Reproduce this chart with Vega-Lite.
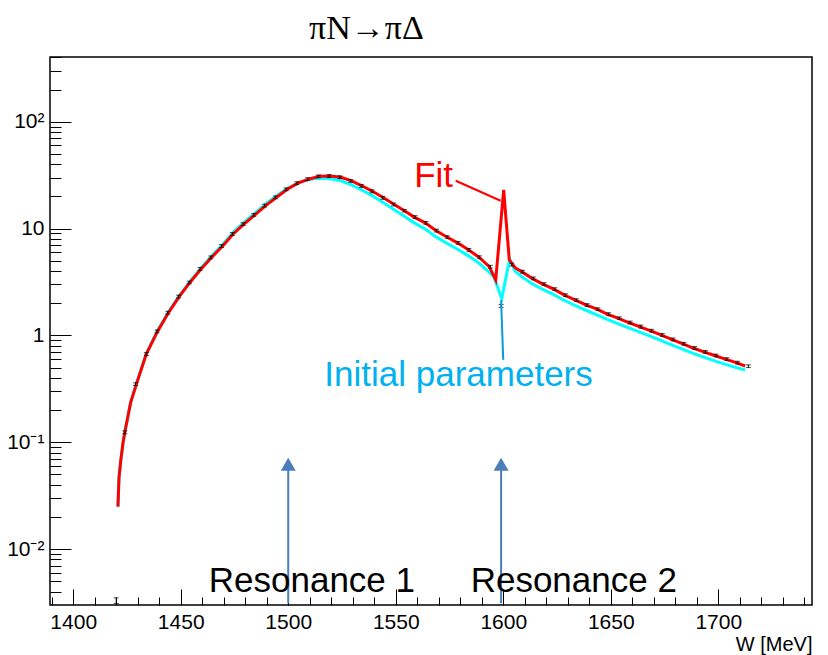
{
  "$schema": "https://vega.github.io/schema/vega-lite/v6.json",
  "autosize": "none",
  "width": 762,
  "height": 548,
  "padding": {"left": 50, "top": 57, "right": 16, "bottom": 50},
  "background": "white",
  "title": {"text": "πN→πΔ", "font": "Liberation Serif", "fontSize": 34, "fontWeight": "normal", "color": "black", "anchor": "start", "frame": "group", "dx": 259, "dy": 35, "baseline": "alphabetic", "offset": 19},
  "datasets": {
    "fit": [
      {"W": 1420.8, "v": 0.025}, {"W": 1421.3, "v": 0.047}, {"W": 1422.1, "v": 0.067}, {"W": 1423.2, "v": 0.10},
      {"W": 1424, "v": 0.124}, {"W": 1426.7, "v": 0.235}, {"W": 1429.4, "v": 0.35}, {"W": 1434, "v": 0.67}, {"W": 1439.2, "v": 1.09},
      {"W": 1444.3, "v": 1.63}, {"W": 1449.3, "v": 2.31}, {"W": 1454.3, "v": 3.13}, {"W": 1459.5, "v": 4.19},
      {"W": 1464.4, "v": 5.38}, {"W": 1469.5, "v": 6.86}, {"W": 1474.4, "v": 8.89}, {"W": 1479.4, "v": 11.0},
      {"W": 1484.5, "v": 13.4}, {"W": 1489.5, "v": 16.4}, {"W": 1494.6, "v": 19.6}, {"W": 1499.6, "v": 23.3},
      {"W": 1504.5, "v": 26.6}, {"W": 1509.5, "v": 29.0}, {"W": 1514.5, "v": 30.8}, {"W": 1519.5, "v": 31.0},
      {"W": 1524.5, "v": 30.2}, {"W": 1529.5, "v": 27.9}, {"W": 1534.5, "v": 25.0}, {"W": 1539.2, "v": 22.3},
      {"W": 1544.3, "v": 19.4}, {"W": 1549.3, "v": 16.8}, {"W": 1554, "v": 14.7}, {"W": 1558.6, "v": 12.8},
      {"W": 1563.7, "v": 11.3}, {"W": 1568.6, "v": 9.57}, {"W": 1574, "v": 8.3}, {"W": 1578.7, "v": 7.35},
      {"W": 1583.8, "v": 6.32}, {"W": 1588.7, "v": 5.39}, {"W": 1593.5, "v": 4.4}, {"W": 1596.5, "v": 3.3},
      {"W": 1600.2, "v": 23}, {"W": 1602.8, "v": 5.1}, {"W": 1605.5, "v": 4.3}, {"W": 1608.5, "v": 3.95},
      {"W": 1613.4, "v": 3.42}, {"W": 1618.4, "v": 3.02}, {"W": 1623.5, "v": 2.71}, {"W": 1628.5, "v": 2.38},
      {"W": 1633.6, "v": 2.14}, {"W": 1638.7, "v": 1.92}, {"W": 1643.6, "v": 1.76}, {"W": 1648.3, "v": 1.58},
      {"W": 1653.3, "v": 1.45}, {"W": 1658.3, "v": 1.32}, {"W": 1663.3, "v": 1.21}, {"W": 1668.3, "v": 1.107},
      {"W": 1673.3, "v": 1.01}, {"W": 1678.3, "v": 0.918}, {"W": 1683.3, "v": 0.836}, {"W": 1688.3, "v": 0.762},
      {"W": 1693.3, "v": 0.70}, {"W": 1698.3, "v": 0.649}, {"W": 1703.3, "v": 0.60}, {"W": 1708.3, "v": 0.556},
      {"W": 1712.5, "v": 0.517}
    ],
    "init": [
      {"W": 1420.8, "v": 0.025}, {"W": 1421.3, "v": 0.047}, {"W": 1422.1, "v": 0.068}, {"W": 1423.2, "v": 0.10},
      {"W": 1424, "v": 0.125}, {"W": 1426.7, "v": 0.238}, {"W": 1429.4, "v": 0.355}, {"W": 1434, "v": 0.68}, {"W": 1439.2, "v": 1.11},
      {"W": 1444.3, "v": 1.66}, {"W": 1449.3, "v": 2.36}, {"W": 1454.3, "v": 3.2}, {"W": 1459.5, "v": 4.3},
      {"W": 1464.4, "v": 5.55}, {"W": 1469.5, "v": 7.1}, {"W": 1474.4, "v": 9.2}, {"W": 1479.4, "v": 11.4},
      {"W": 1484.5, "v": 13.9}, {"W": 1489.5, "v": 17.0}, {"W": 1494.6, "v": 20.3}, {"W": 1499.6, "v": 23.8},
      {"W": 1504.5, "v": 26.8}, {"W": 1509.5, "v": 28.8}, {"W": 1514.5, "v": 29.6}, {"W": 1519.5, "v": 29.2},
      {"W": 1524.5, "v": 28.0}, {"W": 1529.5, "v": 25.6}, {"W": 1534.5, "v": 22.8}, {"W": 1539.2, "v": 20.2},
      {"W": 1544.3, "v": 17.4}, {"W": 1549.3, "v": 15.0}, {"W": 1554, "v": 13.0}, {"W": 1558.6, "v": 11.3},
      {"W": 1563.7, "v": 9.9}, {"W": 1568.6, "v": 8.4}, {"W": 1574, "v": 7.25}, {"W": 1578.7, "v": 6.4},
      {"W": 1583.8, "v": 5.55}, {"W": 1588.7, "v": 4.75}, {"W": 1593.5, "v": 3.9}, {"W": 1595.7, "v": 3.5},
      {"W": 1599.3, "v": 2.22}, {"W": 1603, "v": 5.2}, {"W": 1605.5, "v": 4.0}, {"W": 1608.5, "v": 3.55},
      {"W": 1613.4, "v": 3.05}, {"W": 1618.4, "v": 2.69}, {"W": 1623.5, "v": 2.41}, {"W": 1628.5, "v": 2.12},
      {"W": 1633.6, "v": 1.9}, {"W": 1638.7, "v": 1.71}, {"W": 1643.6, "v": 1.56}, {"W": 1648.3, "v": 1.41},
      {"W": 1653.3, "v": 1.29}, {"W": 1658.3, "v": 1.175}, {"W": 1663.3, "v": 1.077}, {"W": 1668.3, "v": 0.985},
      {"W": 1673.3, "v": 0.9}, {"W": 1678.3, "v": 0.817}, {"W": 1688.3, "v": 0.678}, {"W": 1698.3, "v": 0.578},
      {"W": 1708.3, "v": 0.5}, {"W": 1712.5, "v": 0.475}
    ],
    "points": [
      {"W": 1420, "v": 0.0033, "lo": 0.0031, "hi": 0.0035},
      {"W": 1424, "v": 0.124, "lo": 0.120, "hi": 0.128},
      {"W": 1429, "v": 0.35, "lo": 0.34, "hi": 0.36},
      {"W": 1434, "v": 0.67, "lo": 0.65, "hi": 0.69},
      {"W": 1439, "v": 1.09, "lo": 1.057, "hi": 1.123},
      {"W": 1444, "v": 1.63, "lo": 1.58, "hi": 1.68},
      {"W": 1449, "v": 2.31, "lo": 2.24, "hi": 2.38},
      {"W": 1454, "v": 3.13, "lo": 3.04, "hi": 3.22},
      {"W": 1459, "v": 4.19, "lo": 4.06, "hi": 4.32},
      {"W": 1464, "v": 5.38, "lo": 5.22, "hi": 5.54},
      {"W": 1469, "v": 6.86, "lo": 6.65, "hi": 7.07},
      {"W": 1474, "v": 8.89, "lo": 8.62, "hi": 9.16},
      {"W": 1479, "v": 11.0, "lo": 10.67, "hi": 11.33},
      {"W": 1484, "v": 13.4, "lo": 13.0, "hi": 13.8},
      {"W": 1489, "v": 16.4, "lo": 15.9, "hi": 16.9},
      {"W": 1494, "v": 19.6, "lo": 19.0, "hi": 20.2},
      {"W": 1499, "v": 23.3, "lo": 22.6, "hi": 24.0},
      {"W": 1504, "v": 26.6, "lo": 25.8, "hi": 27.4},
      {"W": 1509, "v": 29.0, "lo": 28.1, "hi": 29.9},
      {"W": 1514, "v": 30.8, "lo": 29.9, "hi": 31.7},
      {"W": 1519, "v": 31.0, "lo": 30.1, "hi": 31.9},
      {"W": 1524, "v": 30.2, "lo": 29.3, "hi": 31.1},
      {"W": 1529, "v": 27.9, "lo": 27.1, "hi": 28.7},
      {"W": 1534, "v": 25.0, "lo": 24.3, "hi": 25.8},
      {"W": 1539, "v": 22.3, "lo": 21.6, "hi": 23.0},
      {"W": 1544, "v": 19.4, "lo": 18.8, "hi": 20.0},
      {"W": 1549, "v": 16.8, "lo": 16.3, "hi": 17.3},
      {"W": 1554, "v": 14.7, "lo": 14.3, "hi": 15.1},
      {"W": 1559, "v": 12.8, "lo": 12.4, "hi": 13.2},
      {"W": 1564, "v": 11.3, "lo": 10.96, "hi": 11.64},
      {"W": 1569, "v": 9.57, "lo": 9.28, "hi": 9.86},
      {"W": 1574, "v": 8.3, "lo": 8.05, "hi": 8.55},
      {"W": 1579, "v": 7.35, "lo": 7.13, "hi": 7.57},
      {"W": 1584, "v": 6.32, "lo": 6.13, "hi": 6.51},
      {"W": 1589, "v": 5.39, "lo": 5.23, "hi": 5.55},
      {"W": 1594, "v": 4.4, "lo": 4.27, "hi": 4.53},
      {"W": 1599, "v": 1.89, "lo": 1.83, "hi": 1.95},
      {"W": 1604, "v": 4.6, "lo": 4.46, "hi": 4.74},
      {"W": 1609, "v": 3.95, "lo": 3.83, "hi": 4.07},
      {"W": 1614, "v": 3.42, "lo": 3.32, "hi": 3.52},
      {"W": 1619, "v": 3.02, "lo": 2.93, "hi": 3.11},
      {"W": 1624, "v": 2.71, "lo": 2.63, "hi": 2.79},
      {"W": 1629, "v": 2.38, "lo": 2.31, "hi": 2.45},
      {"W": 1634, "v": 2.14, "lo": 2.08, "hi": 2.20},
      {"W": 1639, "v": 1.92, "lo": 1.86, "hi": 1.98},
      {"W": 1644, "v": 1.76, "lo": 1.71, "hi": 1.81},
      {"W": 1649, "v": 1.58, "lo": 1.53, "hi": 1.63},
      {"W": 1654, "v": 1.45, "lo": 1.41, "hi": 1.49},
      {"W": 1659, "v": 1.32, "lo": 1.28, "hi": 1.36},
      {"W": 1664, "v": 1.21, "lo": 1.17, "hi": 1.25},
      {"W": 1669, "v": 1.107, "lo": 1.074, "hi": 1.14},
      {"W": 1674, "v": 1.01, "lo": 0.98, "hi": 1.04},
      {"W": 1679, "v": 0.918, "lo": 0.89, "hi": 0.946},
      {"W": 1684, "v": 0.836, "lo": 0.811, "hi": 0.861},
      {"W": 1689, "v": 0.762, "lo": 0.739, "hi": 0.785},
      {"W": 1694, "v": 0.70, "lo": 0.679, "hi": 0.721},
      {"W": 1699, "v": 0.649, "lo": 0.63, "hi": 0.668},
      {"W": 1704, "v": 0.60, "lo": 0.582, "hi": 0.618},
      {"W": 1709, "v": 0.556, "lo": 0.539, "hi": 0.573},
      {"W": 1714, "v": 0.515, "lo": 0.50, "hi": 0.53}
    ]
  },
  "layer": [
    {
      "data": {"name": "init"},
      "mark": {"type": "line", "color": "#00FFFF", "strokeWidth": 3, "interpolate": "linear", "clip": true},
      "encoding": {
        "x": {"field": "W", "type": "quantitative", "scale": {"domain": [1389.2, 1743.6], "nice": false, "zero": false},
              "axis": {"orient": "bottom", "values": [1400, 1450, 1500, 1550, 1600, 1650, 1700], "labels": false, "ticks": true, "tickSize": -16, "domain": false, "title": null}},
        "y": {"field": "v", "type": "quantitative", "scale": {"type": "log", "domain": [0.003, 403], "nice": false},
              "axis": {"orient": "left", "values": [0.01, 0.1, 1, 10, 100], "labels": false, "ticks": true, "tickSize": -21, "domain": false, "title": null}}
      }
    },
    {
      "data": {"name": "fit"},
      "mark": {"type": "line", "color": "#FF0000", "strokeWidth": 3, "interpolate": "linear", "clip": true},
      "encoding": {
        "x": {"field": "W", "type": "quantitative", "scale": {"domain": [1389.2, 1743.6], "nice": false, "zero": false},
              "axis": {"orient": "bottom", "values": [1400, 1450, 1500, 1550, 1600, 1650, 1700], "format": "d", "ticks": false, "labelPadding": 6, "labelFlush": false, "domain": false,
                       "title": "W [MeV]", "titleAnchor": "end", "titleAlign": "right", "titlePadding": 2}},
        "y": {"field": "v", "type": "quantitative", "scale": {"type": "log", "domain": [0.003, 403], "nice": false},
              "axis": {"orient": "left", "values": [0.01, 0.1, 1, 10, 100], "ticks": false, "labelPadding": 6, "domain": false, "title": null, "labelFlush": false, "labelFontSize": 21,
                       "labelExpr": "datum.value >= 50 ? '10²' : datum.value >= 5 ? '10' : datum.value >= 0.5 ? '1' : datum.value >= 0.05 ? '10⁻¹' : '10⁻²'"}}
      }
    },
    {
      "data": {"name": "points"},
      "mark": {"type": "rule", "color": "black", "strokeWidth": 1},
      "encoding": {
        "x": {"field": "W", "type": "quantitative", "scale": {"domain": [1389.2, 1743.6], "nice": false, "zero": false},
              "axis": {"orient": "bottom", "values": [1390, 1410, 1420, 1430, 1440, 1460, 1470, 1480, 1490, 1510, 1520, 1530, 1540, 1560, 1570, 1580, 1590, 1610, 1620, 1630, 1640, 1660, 1670, 1680, 1690, 1710, 1720, 1730, 1740], "labels": false, "ticks": true, "tickSize": -8, "domain": false, "title": null}},
        "y": {"field": "lo", "type": "quantitative", "scale": {"type": "log", "domain": [0.003, 403], "nice": false},
              "axis": {"orient": "left", "values": [0.004, 0.005, 0.006, 0.007, 0.008, 0.009, 0.02, 0.03, 0.04, 0.05, 0.06, 0.07, 0.08, 0.09, 0.2, 0.3, 0.4, 0.5, 0.6, 0.7, 0.8, 0.9, 2, 3, 4, 5, 6, 7, 8, 9, 20, 30, 40, 50, 60, 70, 80, 90, 200, 300, 400], "labels": false, "ticks": true, "tickSize": -11, "domain": false, "title": null}},
        "y2": {"field": "hi"}
      }
    },
    {
      "data": {"name": "points"},
      "mark": {"type": "tick", "orient": "horizontal", "color": "black", "size": 5, "thickness": 1},
      "encoding": {
        "x": {"field": "W", "type": "quantitative", "scale": {"domain": [1389.2, 1743.6], "nice": false, "zero": false}, "axis": null},
        "y": {"field": "lo", "type": "quantitative", "scale": {"type": "log", "domain": [0.003, 403], "nice": false}, "axis": null}
      }
    },
    {
      "data": {"name": "points"},
      "mark": {"type": "tick", "orient": "horizontal", "color": "black", "size": 5, "thickness": 1},
      "encoding": {
        "x": {"field": "W", "type": "quantitative", "scale": {"domain": [1389.2, 1743.6], "nice": false, "zero": false}, "axis": null},
        "y": {"field": "hi", "type": "quantitative", "scale": {"type": "log", "domain": [0.003, 403], "nice": false}, "axis": null}
      }
    },
    {
      "data": {"values": [{"W": 1577.9, "v": 28.0, "W2": 1598.8, "v2": 18.2}]},
      "mark": {"type": "rule", "color": "#FF0000", "strokeWidth": 2},
      "encoding": {
        "x": {"field": "W", "type": "quantitative", "scale": {"domain": [1389.2, 1743.6], "nice": false, "zero": false}, "axis": null},
        "y": {"field": "v", "type": "quantitative", "scale": {"type": "log", "domain": [0.003, 403], "nice": false}, "axis": null},
        "x2": {"field": "W2"},
        "y2": {"field": "v2"}
      }
    },
    {
      "data": {"values": [{"W": 1599.0, "v": 2.14, "W2": 1600.0, "v2": 0.59}]},
      "mark": {"type": "rule", "color": "#0A9AD8", "strokeWidth": 2},
      "encoding": {
        "x": {"field": "W", "type": "quantitative", "scale": {"domain": [1389.2, 1743.6], "nice": false, "zero": false}, "axis": null},
        "y": {"field": "v", "type": "quantitative", "scale": {"type": "log", "domain": [0.003, 403], "nice": false}, "axis": null},
        "x2": {"field": "W2"},
        "y2": {"field": "v2"}
      }
    },
    {
      "data": {"values": [{"W": 1500, "v": 0.00311, "v2": 0.0571}, {"W": 1599, "v": 0.00311, "v2": 0.0571}]},
      "mark": {"type": "rule", "color": "#4A7EBB", "strokeWidth": 2},
      "encoding": {
        "x": {"field": "W", "type": "quantitative", "scale": {"domain": [1389.2, 1743.6], "nice": false, "zero": false}, "axis": null},
        "y": {"field": "v", "type": "quantitative", "scale": {"type": "log", "domain": [0.003, 403], "nice": false}, "axis": null},
        "y2": {"field": "v2"}
      }
    },
    {
      "data": {"values": [{"W": 1500, "v": 0.0624}, {"W": 1599, "v": 0.0624}]},
      "mark": {"type": "point", "shape": "triangle-up", "filled": true, "color": "#4A7EBB", "opacity": 1, "size": 225, "strokeWidth": 0},
      "encoding": {
        "x": {"field": "W", "type": "quantitative", "scale": {"domain": [1389.2, 1743.6], "nice": false, "zero": false}, "axis": null},
        "y": {"field": "v", "type": "quantitative", "scale": {"type": "log", "domain": [0.003, 403], "nice": false}, "axis": null}
      }
    },
    {
      "data": {"values": [{"label": "Fit", "W": 1567.6, "v": 24.6}]},
      "mark": {"type": "text", "color": "#FF0000", "font": "Liberation Sans", "fontSize": 35, "align": "center", "baseline": "alphabetic"},
      "encoding": {
        "x": {"field": "W", "type": "quantitative", "scale": {"domain": [1389.2, 1743.6], "nice": false, "zero": false}, "axis": null},
        "y": {"field": "v", "type": "quantitative", "scale": {"type": "log", "domain": [0.003, 403], "nice": false}, "axis": null},
        "text": {"field": "label"}
      }
    },
    {
      "data": {"values": [{"label": "Initial parameters", "W": 1579.2, "v": 0.335}]},
      "mark": {"type": "text", "color": "#00B0F0", "font": "Liberation Sans", "fontSize": 35, "align": "center", "baseline": "alphabetic"},
      "encoding": {
        "x": {"field": "W", "type": "quantitative", "scale": {"domain": [1389.2, 1743.6], "nice": false, "zero": false}, "axis": null},
        "y": {"field": "v", "type": "quantitative", "scale": {"type": "log", "domain": [0.003, 403], "nice": false}, "axis": null},
        "text": {"field": "label"}
      }
    },
    {
      "data": {"values": [{"label": "Resonance 1", "W": 1511, "v": 0.00394}, {"label": "Resonance 2", "W": 1632.8, "v": 0.00394}]},
      "mark": {"type": "text", "color": "black", "font": "Liberation Sans", "fontSize": 35, "align": "center", "baseline": "alphabetic"},
      "encoding": {
        "x": {"field": "W", "type": "quantitative", "scale": {"domain": [1389.2, 1743.6], "nice": false, "zero": false}, "axis": null},
        "y": {"field": "v", "type": "quantitative", "scale": {"type": "log", "domain": [0.003, 403], "nice": false}, "axis": null},
        "text": {"field": "label"}
      }
    }
  ],
  "resolve": {"axis": {"x": "independent", "y": "independent"}},
  "config": {
    "view": {"stroke": "black", "strokeWidth": 1.5},
    "axis": {"grid": false, "domain": false, "tickColor": "black", "tickWidth": 1, "labelColor": "black", "labelFont": "Liberation Sans", "labelFontSize": 21,
             "titleFont": "Liberation Sans", "titleFontSize": 20, "titleFontWeight": "normal", "titleColor": "black"}
  }
}
